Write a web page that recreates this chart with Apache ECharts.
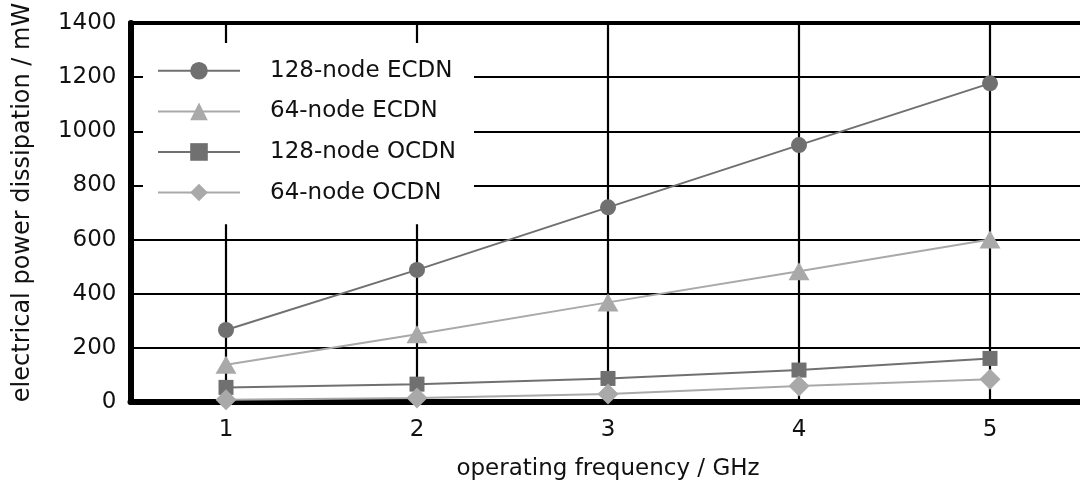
<html>

<head>
    <script src="https://cdn.jsdelivr.net/npm/echarts@6/dist/echarts.min.js"></script>
    <style>
        body { margin: 0; background: #fff; }
    </style>
</head>

<body>

    <div id="main" style="width: 1080px; height: 484px;"></div>

    <script>
        // data (mW)
        var freq = [1, 2, 3, 4, 5];
        var ecdn128 = [266, 488, 719, 949, 1177];
        var ecdn64 = [138, 250, 368, 483, 600];
        var ocdn128 = [54, 66, 87, 118, 161];
        var ocdn64 = [8, 15, 30, 59, 84];
        var yTicks = [0, 200, 400, 600, 800, 1000, 1200, 1400];

        var dark = '#707070';
        var light = '#a9a9a9';
        var font = 'DejaVu Sans';

        function pairs(arr) {
            return freq.map(function (f, i) { return [f, arr[i]]; });
        }

        function makeSeries(name, arr, color, symbol, size) {
            return {
                name: name,
                type: 'line',
                data: pairs(arr),
                symbol: symbol,
                symbolSize: size,
                showSymbol: true,
                itemStyle: { color: color },
                lineStyle: { color: color, width: 2 },
                emphasis: { disabled: true },
                animation: false
            };
        }

        var myChart = echarts.init(document.getElementById('main'));

        var option = {
            animation: false,
            grid: {
                left: 130.5,
                top: 23,
                bottom: 82,
                right: -5.5,
                containLabel: false,
                outerBoundsMode: 'none',
                show: true,
                borderColor: '#000',
                borderWidth: 4,
                backgroundColor: 'transparent'
            },
            legend: {
                left: 143,
                top: 43,
                orient: 'vertical',
                backgroundColor: '#fff',
                padding: [5, 18, 9, 14],
                itemWidth: 82,
                itemHeight: 22,
                itemGap: -5,
                selectedMode: false,
                formatter: function (name) { return '{g|}' + name; },
                textStyle: {
                    fontFamily: font,
                    fontSize: 23,
                    color: '#111',
                    rich: { g: { width: 25 } }
                },
                data: ['128-node ECDN', '64-node ECDN', '128-node OCDN', '64-node OCDN']
            },
            xAxis: {
                type: 'value',
                min: 0.5,
                max: 5.5,
                splitNumber: 5,
                name: 'operating frequency / GHz',
                nameLocation: 'middle',
                nameGap: 44,
                nameMoveOverlap: false,
                nameTextStyle: { fontFamily: font, fontSize: 23, color: '#111' },
                axisLine: { show: true, onZero: false, lineStyle: { color: '#000', width: 6 } },
                axisTick: { show: false },
                axisLabel: {
                    margin: 5,
                    fontFamily: font,
                    fontSize: 23,
                    color: '#111',
                    formatter: function (v) { return v % 1 === 0 ? String(v) : ''; }
                },
                splitLine: { show: true, lineStyle: { color: '#000', width: 2.2 } }
            },
            yAxis: {
                type: 'value',
                min: yTicks[0],
                max: yTicks[yTicks.length - 1],
                interval: 200,
                name: 'electrical power dissipation / mW',
                nameLocation: 'middle',
                nameGap: 84,
                nameMoveOverlap: false,
                nameTextStyle: { fontFamily: font, fontSize: 24, color: '#111', padding: [0, 0, 0, 20] },
                axisLine: { show: true, lineStyle: { color: '#000', width: 6 } },
                axisTick: { show: true, inside: true, length: 12, lineStyle: { color: '#000', width: 2 } },
                axisLabel: {
                    margin: 14,
                    fontFamily: font,
                    fontSize: 23,
                    color: '#111',
                    formatter: function (v) { return String(v); }
                },
                splitLine: { show: true, lineStyle: { color: '#000', width: 2 } }
            },
            series: [
                makeSeries('128-node ECDN', ecdn128, dark, 'circle', 16),
                makeSeries('64-node ECDN', ecdn64, light, 'triangle', [21, 18]),
                makeSeries('128-node OCDN', ocdn128, dark, 'rect', 15),
                makeSeries('64-node OCDN', ocdn64, light, 'diamond', [21, 21])
            ]
        };

        myChart.setOption(option);
    </script>
</body>

</html>
